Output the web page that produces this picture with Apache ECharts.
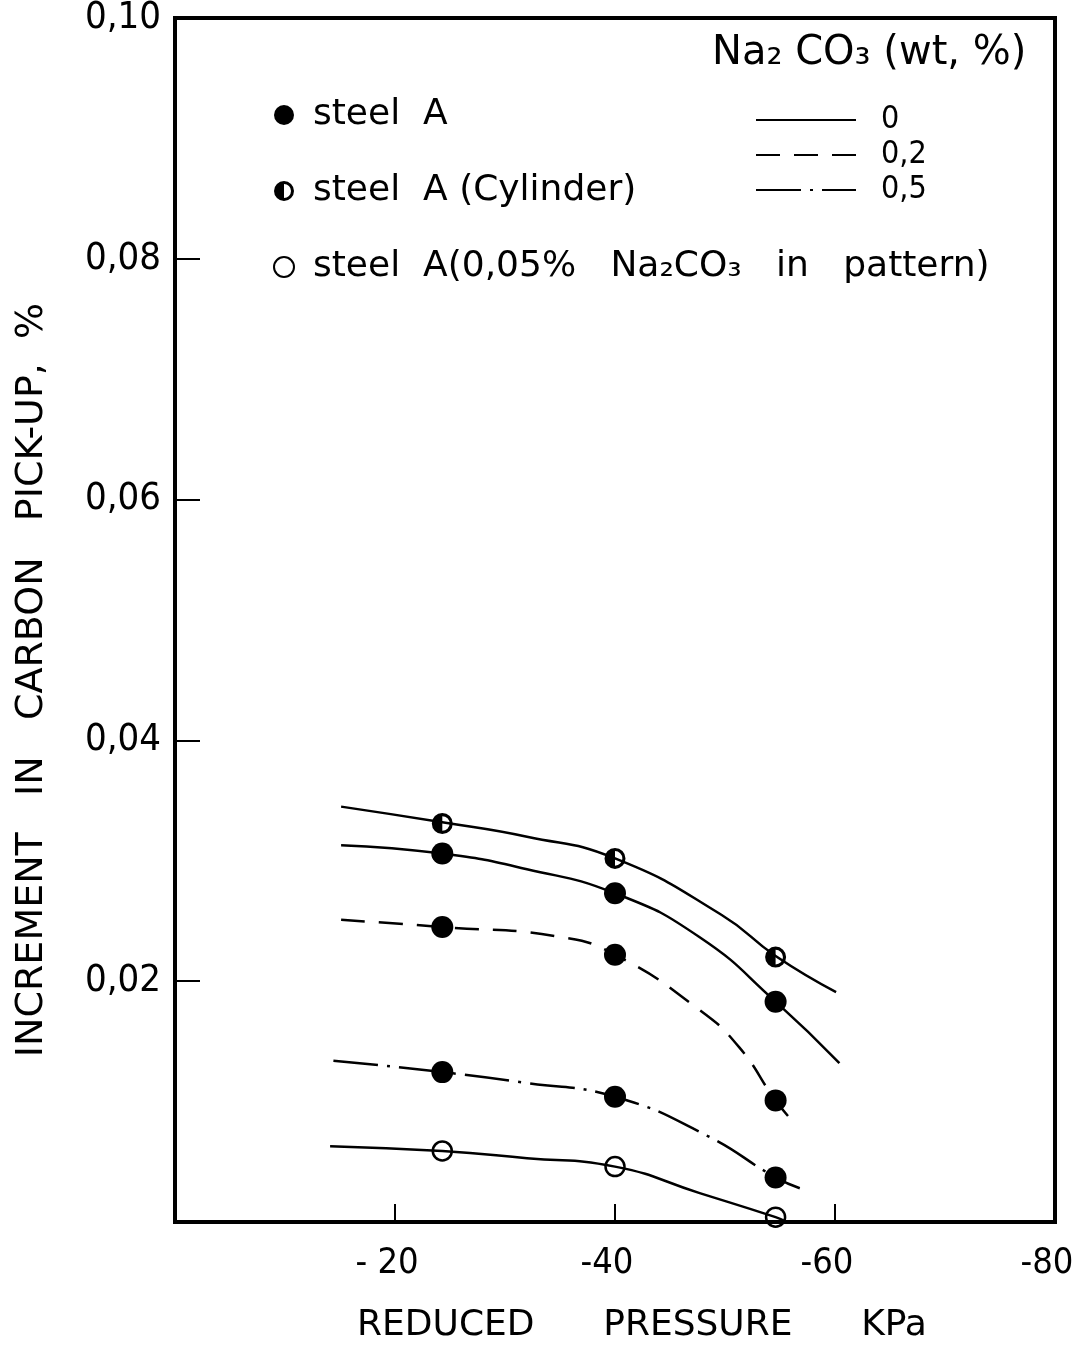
<!DOCTYPE html>
<html>
<head>
<meta charset="utf-8">
<title>Carbon pick-up vs reduced pressure</title>
<script src="https://cdn.jsdelivr.net/npm/echarts@6/dist/echarts.min.js"></script>
<style>
html, body { margin: 0; padding: 0; background: #fff; }
#chart { width: 1078px; height: 1350px; }
</style>
</head>
<body>
<div id="chart"></div>
<script>
// reduced pressure (kPa) at which the castings were made
var pressure = [-24.3, -40, -54.6];

// measured increment in carbon pick-up, %
var steelA_0 = [0.0306, 0.0273, 0.0183];
var steelA_02 = [0.0245, 0.0222, 0.0101];
var steelA_05 = [0.01245, 0.0104, 0.0037];
var cylinder_0 = [0.0331, 0.0302, 0.0220];
var pattern_0 = [0.0059, 0.0046, 0.0004];

// hand drawn curves, [pressure, pick-up]
var curveCylinder = [[-15.1, 0.0345], [-24.3, 0.0332], [-32, 0.0320], [-40, 0.0302], [-49.7, 0.0255], [-54.6, 0.0221], [-60.1, 0.0191]];
var curveSteel0 = [[-15.1, 0.0313], [-24.3, 0.0306], [-32, 0.0293], [-40, 0.0273], [-47.7, 0.02365], [-54.6, 0.0183], [-60.4, 0.0132]];
var curveSteel02 = [[-15.1, 0.0251], [-24.3, 0.0245], [-34.9, 0.0237], [-40, 0.0222], [-47.7, 0.0176], [-51.3, 0.0145], [-54.6, 0.0101], [-56.5, 0.0080]];
var curveSteel05 = [[-14.4, 0.0134], [-24.3, 0.01245], [-32, 0.01154], [-40, 0.0104], [-48.3, 0.0072], [-54.6, 0.0037], [-56.8, 0.0028]];
var curvePattern = [[-14.1, 0.0063], [-24.3, 0.0059], [-32, 0.0053], [-40, 0.0046], [-47.7, 0.0024], [-54.6, 0.0004], [-55.6, 0.0]];

// axis tick labels
var xTickLabels = { '-80': '-80', '-60': '-60', '-40': '-40', '-20': '- 20', '0': '' };
var yTickLabels = ['', '0,02', '0,04', '0,06', '0,08', '0,10'];

var numFont = '"Liberation Sans Narrow", "DejaVu Sans Condensed", sans-serif';
var txtFont = '"DejaVu Sans", sans-serif';

var nameA = 'steel  A';
var nameCyl = 'steel  A (Cylinder)';
var namePat = 'steel  A(0,05%   Na₂CO₃   in   pattern)';

function pts(ys) {
    return pressure.map(function (p, i) { return [p, ys[i]]; });
}

// circle with left half filled
var halfDisc = 'path://M10,0 A10,10 0 1,1 10,20 A10,10 0 1,1 10,0 Z M10,3 L10,17 A7,7 0 0,0 10,3 Z';

function curve(name, data, type) {
    return {
        name: name,
        type: 'line',
        data: data,
        smooth: 0.5,
        symbol: 'none',
        lineStyle: { color: '#000', width: 2.5, type: type },
        itemStyle: { color: '#000' },
        z: 2,
        silent: true
    };
}

var chart = echarts.init(document.getElementById('chart'));

var option = {
    backgroundColor: '#fff',
    animation: false,
    title: {
        text: 'Na₂ CO₃ (wt, %)',
        left: 712,
        top: 34,
        padding: 0,
        textStyle: { fontSize: 40, fontWeight: 'normal', color: '#000', fontFamily: txtFont }
    },
    grid: {
        left: 175, right: 23, top: 18, bottom: 128,
        outerBoundsMode: 'none',
        containLabel: false,
        show: true, borderColor: '#000', borderWidth: 4
    },
    legend: [{
        data: [nameA, nameCyl, namePat],
        orient: 'vertical',
        left: 273, top: 97,
        padding: 0,
        itemWidth: 20, itemHeight: 20, itemGap: 40,
        selectedMode: false,
        textStyle: { fontSize: 36, color: '#000', fontFamily: txtFont, padding: [0, 0, 0, 14] }
    }, {
        data: ['0', '0,2', '0,5'],
        orient: 'vertical',
        left: 755, top: 104,
        padding: 0,
        itemWidth: 100, itemHeight: 14, itemGap: 3,
        selectedMode: false,
        itemStyle: { opacity: 0 },
        textStyle: { fontSize: 32, color: '#000', fontFamily: numFont, padding: [0, 0, 0, 20] }
    }],
    xAxis: {
        type: 'value',
        min: -80, max: 0, interval: 20,
        inverse: true,
        name: 'REDUCED      PRESSURE      KPa',
        nameLocation: 'middle',
        nameGap: 86,
        nameTextStyle: { fontSize: 36, color: '#000', fontFamily: txtFont, padding: [0, 0, 0, 54] },
        axisLine: { lineStyle: { color: '#000', width: 4 } },
        axisTick: { inside: true, length: 18, lineStyle: { color: '#000', width: 2 } },
        axisLabel: {
            margin: 24, fontSize: 36, color: '#000', fontFamily: numFont,
            padding: [0, 16, 0, 0],
            formatter: function (v) { return xTickLabels[String(v)]; }
        },
        splitLine: { show: false }
    },
    yAxis: {
        type: 'value',
        min: 0, max: 0.1, interval: 0.02,
        name: 'INCREMENT   IN   CARBON   PICK-UP,  %',
        nameLocation: 'middle',
        nameGap: 124,
        nameTextStyle: { fontSize: 38, color: '#000', fontFamily: txtFont, padding: [0, 120, 0, 0] },
        axisLine: { lineStyle: { color: '#000', width: 4 } },
        axisTick: { inside: true, length: 25, lineStyle: { color: '#000', width: 2 } },
        axisLabel: {
            margin: 14, fontSize: 38, color: '#000', fontFamily: numFont,
            formatter: function (v) { return yTickLabels[Math.round(v / 0.02)]; }
        },
        splitLine: { show: false }
    },
    series: [
        curve('0', curveCylinder, 'solid'),
        curve('0', curveSteel0, 'solid'),
        curve('0,2', curveSteel02, [24, 14]),
        curve('0,5', curveSteel05, [45, 9, 3, 9]),
        curve('0', curvePattern, 'solid'),
        {
            name: nameA,
            type: 'scatter',
            data: pts(steelA_0).concat(pts(steelA_02), pts(steelA_05)),
            symbol: 'circle', symbolSize: 22,
            itemStyle: { color: '#000', opacity: 1 },
            z: 3
        },
        {
            name: nameCyl,
            type: 'scatter',
            data: pts(cylinder_0),
            symbol: halfDisc, symbolSize: 21,
            itemStyle: { color: '#000', opacity: 1 },
            z: 3
        },
        {
            name: namePat,
            type: 'scatter',
            data: pts(pattern_0),
            symbol: 'circle', symbolSize: 19,
            itemStyle: { color: 'rgba(0,0,0,0)', borderColor: '#000', borderWidth: 2.5, opacity: 1 },
            z: 3
        }
    ]
};

chart.setOption(option);
</script>
</body>
</html>
